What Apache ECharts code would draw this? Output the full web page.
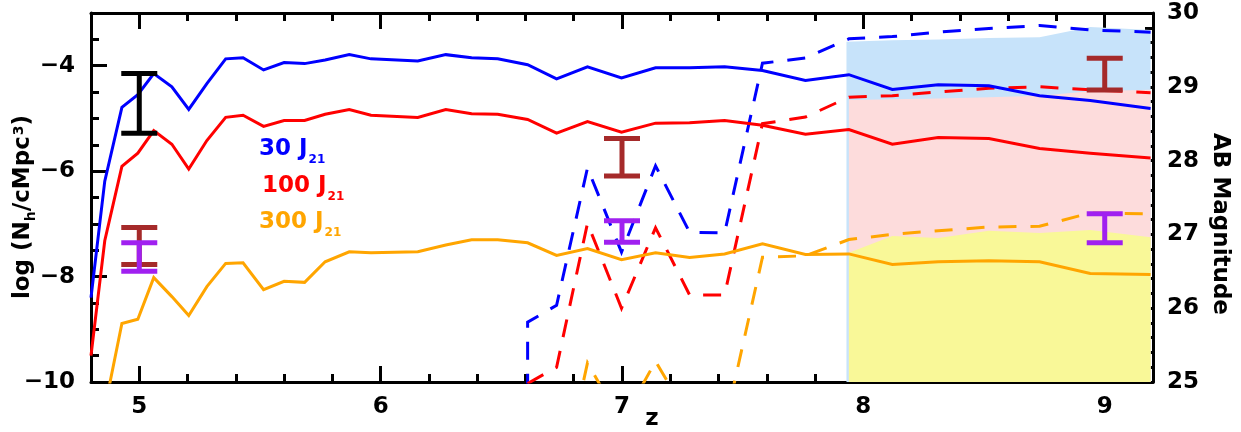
<!DOCTYPE html>
<html><head><meta charset="utf-8">
<script src="https://cdn.jsdelivr.net/npm/echarts@6/dist/echarts.min.js"></script>
<style>html,body{margin:0;padding:0;background:#fff}#c{width:1241px;height:432px}</style>
</head><body><div id="c"></div>
<script>
// ---------- data ----------
// redshift grid of the solid curves (left axis: log N_h / cMpc^3)
const zSolid = [4.80, 4.857, 4.928, 4.994, 5.06, 5.135, 5.205, 5.28, 5.358, 5.43, 5.515, 5.60, 5.685, 5.77, 5.87, 5.96,
  6.154, 6.27, 6.377, 6.485, 6.609, 6.729, 6.857, 6.998, 7.139, 7.28, 7.425, 7.582, 7.76, 7.94, 8.12, 8.31, 8.52, 8.73, 8.94, 9.19];
const blueSolid = [-8.4, -6.19, -4.79, -4.55, -4.15, -4.40, -4.83, -4.34, -3.87, -3.85, -4.08, -3.94, -3.96, -3.89, -3.79, -3.87,
  -3.91, -3.79, -3.85, -3.87, -3.98, -4.25, -4.02, -4.23, -4.04, -4.04, -4.02, -4.09, -4.28, -4.17, -4.45, -4.36, -4.38, -4.57, -4.66, -4.81];
const redSolid = [-9.5, -7.32, -5.91, -5.66, -5.23, -5.49, -5.96, -5.42, -4.98, -4.94, -5.15, -5.04, -5.04, -4.92, -4.83, -4.94,
  -4.98, -4.83, -4.91, -4.92, -5.02, -5.28, -5.06, -5.26, -5.09, -5.08, -5.04, -5.13, -5.30, -5.21, -5.49, -5.36, -5.38, -5.57, -5.66, -5.75];
const orangeSolid = [null, -10.5, -8.89, -8.81, -8.02, -8.38, -8.74, -8.19, -7.75, -7.74, -8.25, -8.09, -8.11, -7.72, -7.53, -7.55,
  -7.53, -7.40, -7.30, -7.30, -7.36, -7.60, -7.47, -7.68, -7.55, -7.64, -7.57, -7.38, -7.58, -7.57, -7.77, -7.72, -7.70, -7.72, -7.94, -7.96];

// dashed curves (right axis: AB magnitude)
const zBlueDash = [6.609, 6.609, 6.729, 6.857, 6.998, 7.139, 7.28, 7.425, 7.582, 7.76, 7.94, 8.12, 8.31, 8.52, 8.73, 8.94, 9.19];
const blueDash  = [24.0, 25.81, 26.04, 27.90, 26.76, 27.93, 27.03, 27.02, 29.32, 29.39, 29.65, 29.68, 29.74, 29.79, 29.83, 29.77, 29.74];
const zRedDash  = [6.609, 6.729, 6.857, 6.998, 7.139, 7.28, 7.425, 7.582, 7.76, 7.94, 8.12, 8.31, 8.52, 8.73, 8.94, 9.19];
const redDash   = [24.98, 25.20, 27.15, 26.00, 27.09, 26.18, 26.18, 28.50, 28.59, 28.86, 28.88, 28.93, 28.98, 29.00, 28.96, 28.92];
const zOrangeDash = [6.729, 6.857, 6.998, 7.139, 7.28, 7.425, 7.582, 7.76, 7.94, 8.12, 8.31, 8.52, 8.73, 8.94, 9.19];
const orangeDash  = [23.33, 25.26, 24.45, 25.28, 24.50, 24.40, 26.69, 26.71, 26.93, 27.00, 27.05, 27.10, 27.11, 27.29, 27.28];

// shaded bands (right axis, upper edges)
const zBand = [7.93, 8.12, 8.31, 8.52, 8.73, 8.94, 9.19];
const blueBandTop   = [29.61, 29.63, 29.64, 29.66, 29.67, 29.81, 29.77];
const pinkBandTop   = [28.82, 28.83, 28.84, 28.86, 28.88, 28.94, 28.96];
const yellowBandTop = [26.75, 26.98, 26.95, 27.05, 27.02, 27.06, 26.96];

// observational error bars (left axis)
const blackErrZ = [5], blackErrLo = [-5.28], blackErrHi = [-4.15];
const brownErrZ = [5, 7, 9], brownErrLo = [-7.77, -6.09, -4.46], brownErrHi = [-7.07, -5.38, -3.86];
const purpleErrZ = [5, 7, 9], purpleErrLo = [-7.90, -7.35, -7.36], purpleErrHi = [-7.36, -6.94, -6.81];

// ticks
const xMajor = [5, 6, 7, 8, 9];
const yMajor = [-10, -8, -6, -4];
const magMajor = [25, 26, 27, 28, 29, 30];
function steps(a, b, s) { const r = []; for (let v = a; v <= b + 1e-9; v += s) r.push(Math.round(v * 100) / 100); return r; }
const xMinor = steps(5.0, 9.2, 0.2).concat([4.8]);
const yMinor = steps(-9.5, -3.5, 0.5);
const magMinor = steps(25.2, 29.8, 0.2);

// ---------- chart ----------
const FONT = 'DejaVu Sans';
const pairs = (xs, ys) => xs.map((x, i) => [x, ys[i]]);
const tickLine = { color: '#000', width: 3 };
const lblFont = { fontFamily: FONT, fontWeight: 'bold', fontSize: 23, color: '#000' };
const fmtNum = v => (v < 0 ? '\u2212' + Math.abs(v) : String(v));

function xAx(pos, custom, len, showLine, showLabel) {
  return { type: 'value', min: 4.8, max: 9.2, position: pos,
    axisLine: { show: showLine, onZero: false, lineStyle: tickLine },
    axisTick: { show: true, inside: true, length: len, customValues: custom, lineStyle: tickLine },
    axisLabel: { show: showLabel, customValues: custom, margin: 14, formatter: fmtNum, ...lblFont },
    splitLine: { show: false } };
}
function yAx(pos, min, max, custom, len, showLine, showLabel, margin) {
  return { type: 'value', min, max, position: pos,
    axisLine: { show: showLine, onZero: false, lineStyle: tickLine },
    axisTick: { show: true, inside: true, length: len, customValues: custom, lineStyle: tickLine },
    axisLabel: { show: showLabel, customValues: custom, margin: margin, formatter: fmtNum, ...lblFont },
    splitLine: { show: false } };
}

function errSeries(zs, lo, hi, color) {
  return { type: 'custom', xAxisIndex: 0, yAxisIndex: 0, z: 10, silent: true,
    data: zs.map((z, i) => [z, lo[i], hi[i]]),
    renderItem: function (params, api) {
      const x = api.value(0);
      const pHi = api.coord([x, api.value(2)]);
      const pLo = api.coord([x, api.value(1)]);
      const hw = 18;
      const st = { stroke: color, lineWidth: 5, fill: null };
      return { type: 'group', children: [
        { type: 'line', shape: { x1: pHi[0], y1: pHi[1], x2: pLo[0], y2: pLo[1] }, style: st },
        { type: 'line', shape: { x1: pHi[0] - hw, y1: pHi[1], x2: pHi[0] + hw, y2: pHi[1] }, style: st },
        { type: 'line', shape: { x1: pLo[0] - hw, y1: pLo[1], x2: pLo[0] + hw, y2: pLo[1] }, style: st }
      ] };
    } };
}
function band(zs, top, color) {
  return { type: 'line', xAxisIndex: 0, yAxisIndex: 2, data: pairs(zs, top), symbol: 'none', silent: true, z: 1,
    lineStyle: { width: 0 }, areaStyle: { color: color, opacity: 1, origin: 'start' } };
}
function curve(zs, ys, color, yIdx, dashed) {
  return { type: 'line', xAxisIndex: 0, yAxisIndex: yIdx, data: pairs(zs, ys), symbol: 'none', silent: true, z: 5,
    clip: true, connectNulls: false,
    lineStyle: { color: color, width: 3, type: dashed ? [18, 14] : 'solid', join: 'miter' } };
}

const legendRich = (color) => ({
  m: { fontFamily: FONT, fontWeight: 'bold', fontSize: 23, fill: color, verticalAlign: 'top' },
  s: { fontFamily: FONT, fontWeight: 'bold', fontSize: 12, fill: color, verticalAlign: 'top', padding: [16, 0, 0, 1] }
});

const option = {
  animation: false,
  backgroundColor: '#fff',
  grid: { left: 91, right: 88, top: 13, bottom: 50, containLabel: false },
  xAxis: [
    xAx('bottom', xMajor, 16, true, true),
    xAx('bottom', xMinor, 8, false, false),
    xAx('top', xMajor, 16, true, false),
    xAx('top', xMinor, 8, false, false)
  ],
  yAxis: [
    yAx('left', -10, -3, yMajor, 16, true, true, 16),
    yAx('left', -10, -3, yMinor, 8, false, false, 16),
    yAx('right', 25, 30, magMajor, 17, true, true, 14),
    yAx('right', 25, 30, magMinor, 8, false, false, 14)
  ],
  series: [
    band([7.93].concat(zBand.slice(1)), blueBandTop, '#c7e3fa'),
    band([7.94].concat(zBand.slice(1)), pinkBandTop, '#fddcdc'),
    band([7.94].concat(zBand.slice(1)), yellowBandTop, '#f9f898'),
    curve(zBlueDash, blueDash, '#0000ff', 2, true),
    curve(zRedDash, redDash, '#ff0000', 2, true),
    curve(zOrangeDash, orangeDash, '#ffa500', 2, true),
    curve(zSolid, blueSolid, '#0000ff', 0, false),
    curve(zSolid, redSolid, '#ff0000', 0, false),
    curve(zSolid, orangeSolid, '#ffa500', 0, false),
    errSeries(blackErrZ, blackErrLo, blackErrHi, '#000000'),
    errSeries(brownErrZ, brownErrLo, brownErrHi, '#a52a2a'),
    errSeries(purpleErrZ, purpleErrLo, purpleErrHi, '#a020f0')
  ],
  graphic: [
    { type: 'text', x: 259, y: 138, z: 20, style: { text: '{m|30 J}{s|21}', rich: legendRich('#0000ff'), align: 'left', verticalAlign: 'top' } },
    { type: 'text', x: 262, y: 175, z: 20, style: { text: '{m|100 J}{s|21}', rich: legendRich('#ff0000'), align: 'left', verticalAlign: 'top' } },
    { type: 'text', x: 259, y: 211, z: 20, style: { text: '{m|300 J}{s|21}', rich: legendRich('#ffa500'), align: 'left', verticalAlign: 'top' } },
    { type: 'text', x: 25, y: 207, rotation: Math.PI / 2, z: 20,
      style: { text: '{m|log (N}{s|h}{m|/cMpc}{p|3}{m|)}', align: 'center', verticalAlign: 'middle',
        rich: {
          m: { fontFamily: FONT, fontWeight: 'bold', fontSize: 23, fill: '#000', verticalAlign: 'top' },
          s: { fontFamily: FONT, fontWeight: 'bold', fontSize: 14, fill: '#000', verticalAlign: 'top', padding: [12, 0, 0, 0] },
          p: { fontFamily: FONT, fontWeight: 'bold', fontSize: 14, fill: '#000', verticalAlign: 'top', padding: [0, 0, 0, 1] }
        } } },
    { type: 'text', x: 1220, y: 224, rotation: -Math.PI / 2, z: 20,
      style: { text: 'AB Magnitude', fontFamily: FONT, fontWeight: 'bold', fontSize: 23, fill: '#000', align: 'center', verticalAlign: 'middle' } },
    { type: 'text', x: 652, y: 419, z: 20,
      style: { text: 'z', fontFamily: FONT, fontWeight: 'bold', fontSize: 23, fill: '#000', align: 'center', verticalAlign: 'middle' } }
  ]
};
const chart = echarts.init(document.getElementById('c'), null, { renderer: 'canvas' });
chart.setOption(option);
</script>
</body></html>
